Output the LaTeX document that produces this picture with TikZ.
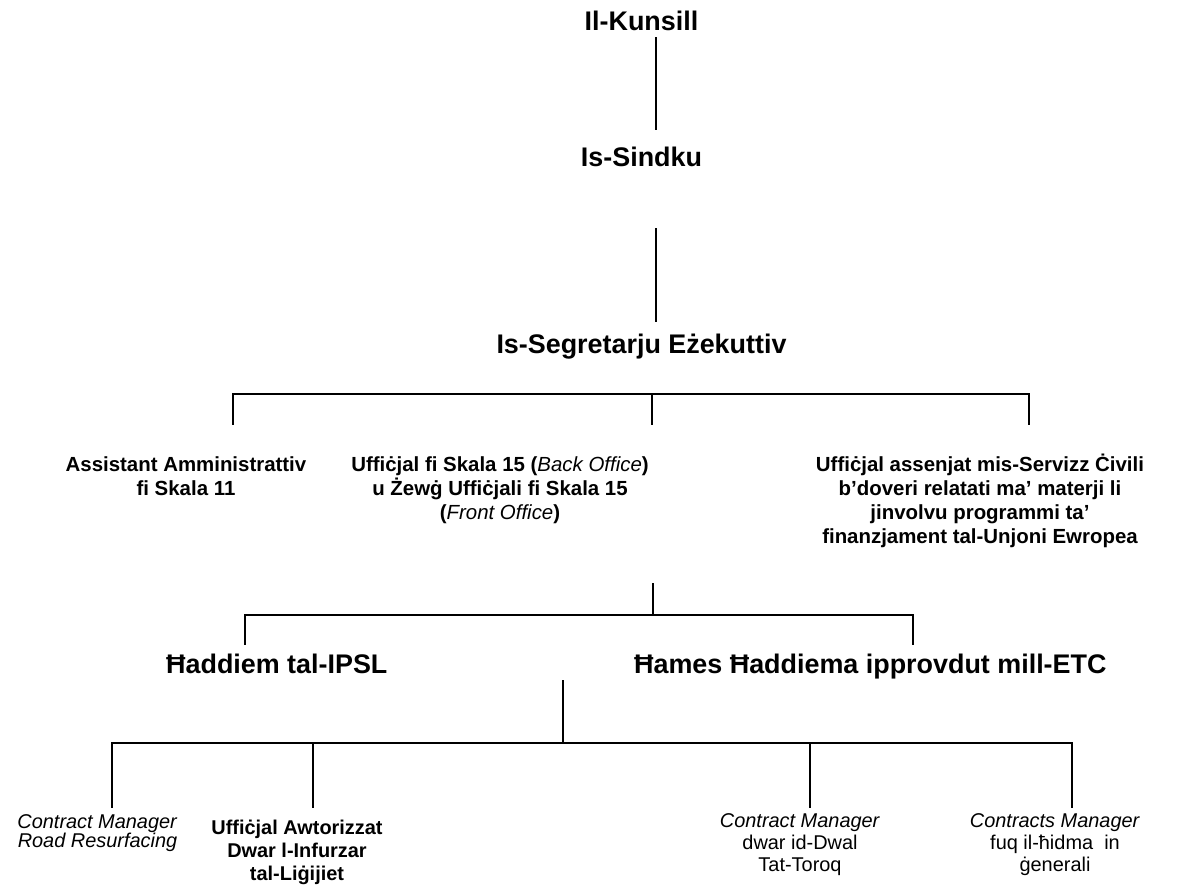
\documentclass[tikz,border=0pt]{standalone}
\usepackage{fontspec}
\setmainfont{Liberation Sans}
\begin{document}
\begin{tikzpicture}[x=1bp,y=-1bp,
  big/.style={font=\fontsize{27}{30}\selectfont\bfseries,inner sep=0pt,anchor=base},
  mid/.style={font=\fontsize{20.5}{24.3}\selectfont\bfseries,inner sep=0pt,align=center,anchor=base},
  small/.style={font=\fontsize{20}{22}\selectfont,inner sep=0pt,align=center,anchor=base},
  conn/.style={line width=1.4bp},
  bar/.style={line width=2.6bp}]
\useasboundingbox (0,0) rectangle (1193,885);
% level 1
\node[big] (kun) at (641.5,30) {Il-Kunsill};
\node[big] (sin) at (641.5,166) {Is-Sindku};
\node[big] (seg) at (641.5,353) {Is-Segretarju Eżekuttiv};
\coordinate (k1) at (656,37); \coordinate (k2) at (656,130);
\coordinate (s1) at (656,228); \coordinate (s2) at (656,322);
\draw[conn] (k1) -- (k2);
\draw[conn] (s1) -- (s2);
% level 3
\coordinate (h1l) at (233,394); \coordinate (h1m) at (652,394); \coordinate (h1r) at (1029,394);
\coordinate (d1l) at (233,425); \coordinate (d1m) at (652,425); \coordinate (d1r) at (1029,425);
\draw[bar] ([xshift=-0.7bp]h1l) -- ([xshift=0.7bp]h1r);
\draw[conn] (h1l) -- (d1l);
\draw[conn] (h1m) -- (d1m);
\draw[conn] (h1r) -- (d1r);
\node[mid] (ass) at (186,495.3) {Assistant Amministrattiv\\fi Skala 11};
\node[mid] (uff) at (500,519.6) {Uffiċjal fi Skala 15 (\textit{\mdseries Back Office})\\u Żewġ Uffiċjali fi Skala 15\\(\textit{\mdseries Front Office})};
\node[mid] (eu) at (980,543.9) {Uffiċjal assenjat mis-Servizz Ċivili\\b’doveri relatati ma’ materji li\\jinvolvu programmi ta’\\finanzjament tal-Unjoni Ewropea};
% level 4
\coordinate (u1) at (653,583); \coordinate (u2) at (653,615);
\draw[conn] (u1) -- (u2);
\coordinate (h2l) at (245,615); \coordinate (h2r) at (913,615);
\coordinate (d2l) at (245,645); \coordinate (d2r) at (913,645);
\draw[bar] ([xshift=-0.7bp]h2l) -- ([xshift=0.7bp]h2r);
\draw[conn] (h2l) -- (d2l);
\draw[conn] (h2r) -- (d2r);
\node[big,anchor=base west] (ips) at (166,673) {Ħaddiem tal-IPSL};
\node[big,anchor=base west] (etc) at (634,673) {Ħames Ħaddiema ipprovdut mill-ETC};
% level 5
\coordinate (v1) at (563,680); \coordinate (v2) at (563,743);
\draw[conn] (v1) -- (v2);
\coordinate (h3a) at (112,743); \coordinate (h3b) at (313,743);
\coordinate (h3c) at (810,743); \coordinate (h3d) at (1072,743);
\coordinate (d3a) at (112,808); \coordinate (d3b) at (313,808);
\coordinate (d3c) at (810,808); \coordinate (d3d) at (1072,808);
\draw[bar] ([xshift=-0.7bp]h3a) -- ([xshift=0.7bp]h3d);
\draw[conn] (h3a) -- (d3a);
\draw[conn] (h3b) -- (d3b);
\draw[conn] (h3c) -- (d3c);
\draw[conn] (h3d) -- (d3d);
\node[small,font=\fontsize{20}{19}\selectfont] (road) at (97.5,847) {\textit{Contract Manager}\\\textit{Road Resurfacing}};
\node[small,font=\fontsize{20}{23}\selectfont\bfseries] (awt) at (297,880) {Uffiċjal Awtorizzat\\Dwar l-Infurzar\\tal-Liġijiet};
\node[small] (dwal) at (800,871) {\textit{Contract Manager}\\dwar id-Dwal\\Tat-Toroq};
\node[small] (gen) at (1055,871) {\textit{Contracts Manager}\\fuq il-ħidma~ in\\ġenerali};
\end{tikzpicture}
\end{document}
